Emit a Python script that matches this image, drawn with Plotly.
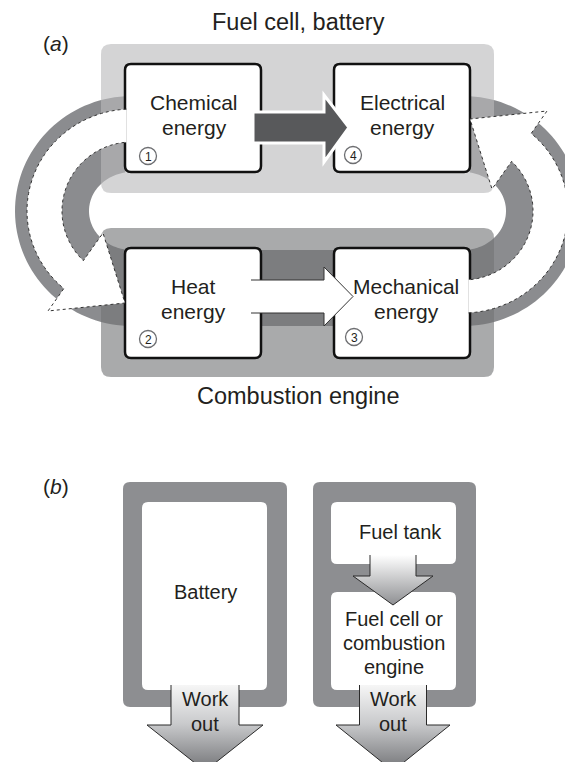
import numpy as np
import plotly.graph_objects as go

W, H = 573, 762
PAGE_MARGIN = 8  # default body margin of the html page

# texts of the diagram
panel_titles = ["Fuel cell, battery", "Combustion engine"]
part_labels = ["(<i>a</i>)", "(<i>b</i>)"]
box_names = ["Chemical", "Electrical", "Heat", "Mechanical"]
box_second = ["energy", "energy", "energy", "energy"]
step_numbers = ["1", "4", "2", "3"]
storage_labels = ["Battery", "Fuel tank"]
converter_lines = ["Fuel cell or", "combustion", "engine"]
work_lines = ["Work", "out"]

FONT = "Liberation Sans, Arial, Helvetica, sans-serif"
INK = "#231f20"
RING = "#8b8c8f"
FRAME = "#8d8e91"

# layout constants for part (a)
box_x = [(125, 261), (334, 470), (125, 261), (334, 470)]
box_y = [(64, 172), (64, 172), (248, 358), (248, 358)]
text_x = [194, 402, 193, 406]
num_xy = [(148, 156), (353, 155), (148, 339), (354, 337)]
CX_L, CX_R, CY = 132, 463, 211
RING_OUT, RING_IN = (117, 115), (43, 39)
ARR_OUT, ARR_IN = (105, 102), (70, 69)


def rrect(x0, y0, x1, y1, r):
    return (f"M{x0+r},{y0} L{x1-r},{y0} Q{x1},{y0} {x1},{y0+r} L{x1},{y1-r} "
            f"Q{x1},{y1} {x1-r},{y1} L{x0+r},{y1} Q{x0},{y1} {x0},{y1-r} "
            f"L{x0},{y0+r} Q{x0},{y0} {x0+r},{y0} Z")


def poly(pts, close=True):
    s = "M" + " L".join(f"{x:.2f},{y:.2f}" for x, y in pts)
    return s + (" Z" if close else "")


def arc(cx, cy, rx, ry, t0, t1, n=70):
    t = np.radians(np.linspace(t0, t1, n))
    return list(zip(cx + rx * np.cos(t), cy + ry * np.sin(t)))


def top_angle(dx, rx):
    # angle on the upper half of an ellipse for a given horizontal offset
    return 360 - np.degrees(np.arccos(dx / rx))


shapes = []

# dark loop behind the curved arrows
ring = (arc(CX_L, CY, *RING_OUT, top_angle(125 - CX_L, RING_OUT[0]), 90)
        + arc(CX_R, CY, *RING_OUT, 90, top_angle(470 - CX_R, RING_OUT[0]) - 360)
        + arc(CX_R, CY, *RING_IN, top_angle(470 - CX_R, RING_IN[0]) - 360, 90)
        + arc(CX_L, CY, *RING_IN, 90, top_angle(125 - CX_L, RING_IN[0])))
shapes.append(dict(type="path", path=poly(ring), fillcolor=RING, line_width=0))

# the two panels
shapes.append(dict(type="path", path=rrect(101, 44, 494, 193, 10),
                   fillcolor="rgba(185,186,188,0.62)", line_width=0))
shapes.append(dict(type="path", path=rrect(101, 228, 494, 377, 10),
                   fillcolor="rgba(115,116,118,0.61)", line_width=0))

# energy boxes
for (x0, x1), (y0, y1) in zip(box_x, box_y):
    shapes.append(dict(type="path", path=rrect(x0, y0, x1, y1, 6),
                       fillcolor="white", line=dict(color="#111", width=2.5)))

# dark straight arrow: chemical -> electrical
dark = [(253, 112), (324, 112), (324, 95), (349, 127.5), (324, 162), (324, 143), (253, 143)]
shapes.append(dict(type="path", path=poly(dark), fillcolor="#58595b",
                   line=dict(color="white", width=3)))

# white straight arrow: heat -> mechanical
wh = [(251, 280), (324, 280), (324, 267), (353, 296.5), (324, 326), (324, 313), (251, 313)]
shapes.append(dict(type="path", path=poly(wh), fillcolor="white", line_width=0))
shapes.append(dict(type="path", path=poly(wh, False), fillcolor="rgba(0,0,0,0)",
                   line=dict(color="#333", width=1)))

# curved white arrow on the left, the right one is its point reflection
left_arrow = (arc(CX_L, CY, *ARR_OUT, top_angle(126.5 - CX_L, ARR_OUT[0]), 130.5)
              + [(48, 311), (125, 303), (103, 233)]
              + arc(CX_L, CY, *ARR_IN, 134, top_angle(126.5 - CX_L, ARR_IN[0])))
right_arrow = [(595 - x, 422 - y) for x, y in left_arrow]
for pts in (left_arrow, right_arrow):
    shapes.append(dict(type="path", path=poly(pts), fillcolor="white", line_width=0))
    shapes.append(dict(type="path", path=poly(pts, False), fillcolor="rgba(0,0,0,0)",
                       line=dict(color="#333", width=1, dash="dot")))

# numbered circles
for cx, cy in num_xy:
    shapes.append(dict(type="circle", x0=cx - 8.5, x1=cx + 8.5, y0=cy - 8.5, y1=cy + 8.5,
                       fillcolor="white", line=dict(color="#6d6e71", width=1.3)))

# part (b) frames
shapes.append(dict(type="path", path=rrect(123, 482, 287, 707, 7), fillcolor=FRAME, line_width=0))
shapes.append(dict(type="path", path=rrect(142, 502, 267, 690, 6), fillcolor="white", line_width=0))
shapes.append(dict(type="path", path=rrect(313, 482, 476, 707, 7), fillcolor=FRAME, line_width=0))
shapes.append(dict(type="path", path=rrect(331, 502, 456, 564, 6), fillcolor="white", line_width=0))
shapes.append(dict(type="path", path=rrect(331, 592, 456, 690, 6), fillcolor="white", line_width=0))

for s in shapes:
    s.update(xref="x", yref="y", layer="below")

fig = go.Figure()


def down_arrow(cx, top, base, tip, shaft_hw, head_hw, scale):
    pts = [(cx - shaft_hw, top), (cx - shaft_hw, base), (cx - head_hw, base), (cx, tip),
           (cx + head_hw, base), (cx + shaft_hw, base), (cx + shaft_hw, top)]
    xs = [p[0] for p in pts]
    ys = [p[1] for p in pts]
    fig.add_trace(go.Scatter(x=xs + [xs[0]], y=ys + [ys[0]], mode="lines", fill="toself",
                             fillgradient=dict(type="vertical", colorscale=scale, start=top, stop=tip),
                             line=dict(width=0), hoverinfo="skip"))
    fig.add_trace(go.Scatter(x=xs, y=ys, mode="lines", line=dict(color="#2a2a2a", width=1),
                             hoverinfo="skip"))


work_scale = [[0, "#f6f6f6"], [0.45, "#c9cacc"], [1, "#727376"]]
down_arrow(205, 685, 725, 771, 34, 58, work_scale)
down_arrow(393, 555, 576, 605, 23, 40, [[0, "#ffffff"], [1, "#8e8f92"]])
down_arrow(393, 685, 725, 771, 33.5, 57, work_scale)

ann = []


def txt(x, y, s, size):
    ann.append(dict(x=x, y=y, text=s, showarrow=False, xref="x", yref="y",
                    xanchor="center", yanchor="middle",
                    font=dict(family=FONT, size=size, color=INK)))


txt(298, 22, panel_titles[0], 23.5)
txt(298, 396, panel_titles[1], 23.5)
txt(56, 43, part_labels[0], 21)
txt(56, 486, part_labels[1], 21)
for i in range(4):
    txt(text_x[i], box_y[i][0] + 38, box_names[i], 21)
    txt(text_x[i], box_y[i][0] + 63, box_second[i], 21)
    txt(num_xy[i][0], num_xy[i][1] + 0.5, step_numbers[i], 12)
txt(205, 592, storage_labels[0], 20)
txt(400, 532, storage_labels[1], 20)
for i, line in enumerate(converter_lines):
    txt(394, 619 + 24 * i, line, 20)
for cx in (205, 393):
    txt(cx, 699, work_lines[0], 20)
    txt(cx, 724, work_lines[1], 20)

# the page keeps its default body margin, so the figure is offset by it
fig.update_layout(
    width=W - PAGE_MARGIN, height=H - PAGE_MARGIN,
    margin=dict(l=0, r=0, t=0, b=0),
    paper_bgcolor="white", plot_bgcolor="white",
    showlegend=False,
    shapes=shapes, annotations=ann,
    xaxis=dict(range=[PAGE_MARGIN, W], visible=False, fixedrange=True),
    yaxis=dict(range=[H, PAGE_MARGIN], visible=False, fixedrange=True),
)
fig.write_html("out.html")
